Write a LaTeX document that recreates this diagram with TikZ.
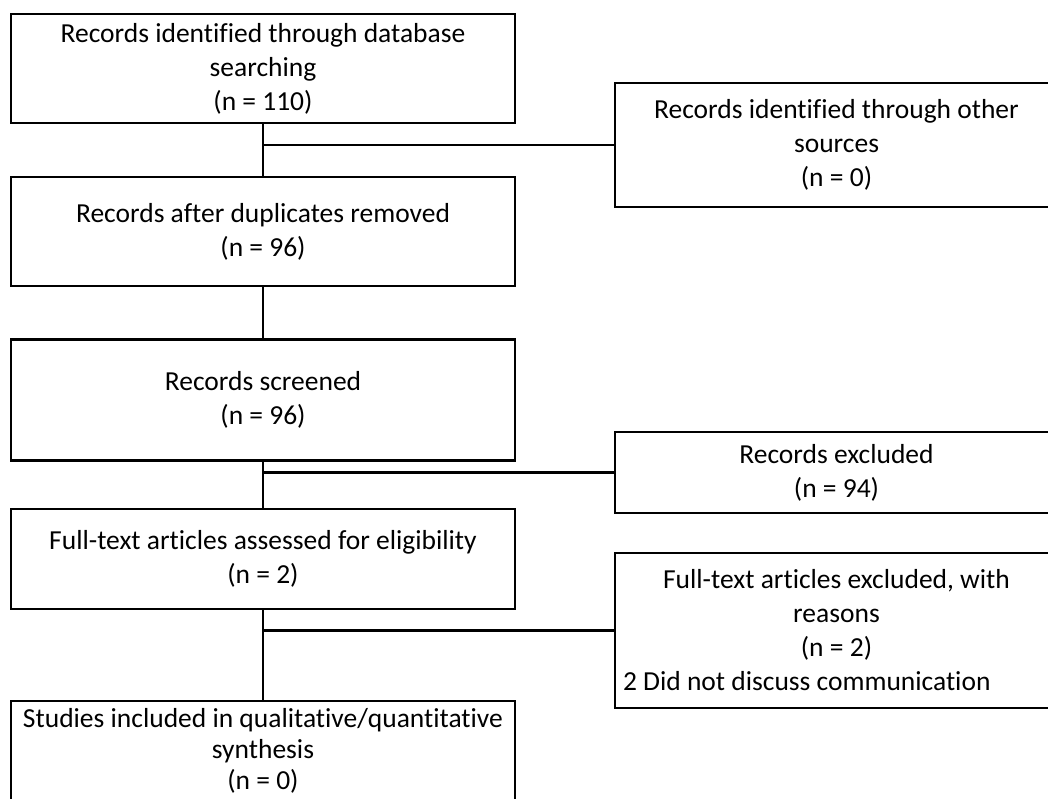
\documentclass[tikz,border=0pt]{standalone}
\usepackage{fontspec}
\setmainfont{Carlito}[Ligatures=NoCommon]
\usepackage{tikz}
\usetikzlibrary{positioning}

\begin{document}
\begin{tikzpicture}[x=1pt, y=-1pt,
  box/.style={rectangle, draw=black, line width=2.2pt, align=center,
              inner sep=8pt, font=\fontsize{27.5}{34}\selectfont},
  mainbox/.style={box, minimum width=504pt},
  sidebox/.style={box, minimum width=443pt},
  link/.style={draw=black, line width=2.2pt},
]
  \useasboundingbox (0,0) rectangle (1048,798);
  % main column
  \node[mainbox, minimum height=109pt] (rec) at (263,68.5)
    {Records identified through database\\searching\\(n = 110)};
  \node[mainbox, minimum height=109pt, below=52pt of rec] (dup)
    {Records after duplicates removed\\(n = 96)};
  \node[mainbox, minimum height=121pt, below=51pt of dup] (scr)
    {Records screened\\(n = 96)};
  \node[mainbox, minimum height=100pt, below=46pt of scr] (full)
    {Full-text articles assessed for eligibility\\(n = 2)};
  \node[mainbox, minimum height=114pt, below=90pt of full,
        font=\fontsize{27.5}{31}\selectfont] (incl)
    {Studies included in qualitative/quantitative\\synthesis\\(n = 0)\\\strut};
  % side column
  \node[sidebox, minimum height=124pt] (oth) at (836.5,145)
    {Records identified through other\\sources\\(n = 0)};
  \node[sidebox, minimum height=81pt] (exc) at (836.5,472.5)
    {Records excluded\\(n = 94)};
  \node[sidebox, minimum height=155pt] (fexc) at (836.5,630.5)
    {Full-text articles excluded, with\\reasons\\(n = 2)\\
     \makebox[427pt][l]{2 Did not discuss communication}};
  % connectors
  \draw[link] (rec) -- (dup);
  \draw[link] (dup) -- (scr);
  \draw[link] (scr) -- (full);
  \draw[link] (full) -- (incl);
  \draw[link] (rec.south |- oth.west) -- (oth.west);
  \draw[link] (scr.south |- exc.west) -- (exc.west);
  \draw[link] (full.south |- fexc.west) -- (fexc.west);
\end{tikzpicture}
\end{document}
